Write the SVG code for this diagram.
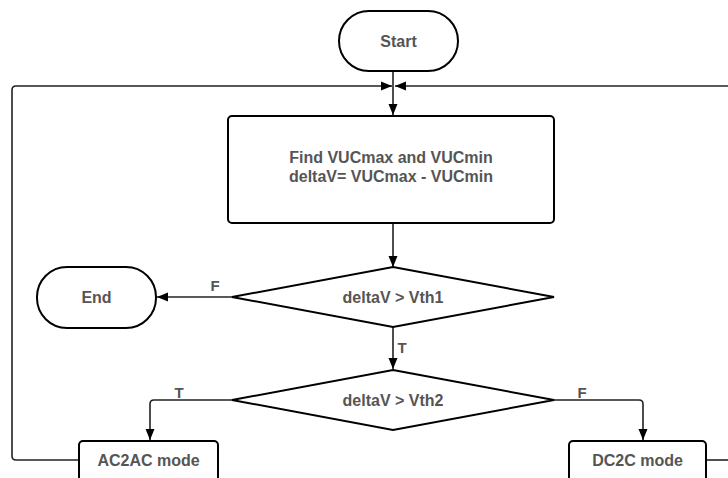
<svg xmlns="http://www.w3.org/2000/svg" width="728" height="478" viewBox="0 0 728 478">
<defs>
<style>
.shape{fill:#fff;stroke:#000;stroke-width:2}
.line{fill:none;stroke:#222;stroke-width:1.6}
.t{font-family:"Liberation Sans",Arial,sans-serif;font-weight:bold;font-size:16px;fill:#555;text-anchor:middle;dominant-baseline:central}
.lbl{font-family:"Liberation Sans",Arial,sans-serif;font-weight:bold;font-size:15px;fill:#555;text-anchor:middle;dominant-baseline:central}
</style>
<marker id="arr" markerUnits="userSpaceOnUse" markerWidth="12" markerHeight="10" refX="11" refY="5" orient="auto">
<path d="M0,0.5 L11,5 L0,9.5 z" fill="#000"/>
</marker>
</defs>
<rect width="728" height="478" fill="#fff"/>
<g id="connectors">
<path class="line" d="M393,71 V115" marker-end="url(#arr)"/>
<path class="line" d="M79,460 H16 Q12,460 12,456 V90 Q12,86 16,86 H392" marker-end="url(#arr)"/>
<path class="line" d="M706,460 H728"/>
<path class="line" d="M728,86 H395" marker-end="url(#arr)"/>
<path class="line" d="M393,223 V267" marker-end="url(#arr)"/>
<path class="line" d="M232,297 H157" marker-end="url(#arr)"/>
<path class="line" d="M393,327 V369" marker-end="url(#arr)"/>
<path class="line" d="M232,400 H154 Q150,400 150,404 V440" marker-end="url(#arr)"/>
<path class="line" d="M554,400 H639 Q643,400 643,404 V440" marker-end="url(#arr)"/>
<text class="lbl" x="215" y="285">F</text>
<text class="lbl" x="402" y="347">T</text>
<text class="lbl" x="179" y="392">T</text>
<text class="lbl" x="582" y="392">F</text>
</g>
<g id="start">
<rect class="shape" x="339" y="11" width="119" height="60" rx="30" ry="30"/>
<text class="t" x="398.5" y="41">Start</text>
</g>
<g id="process">
<rect class="shape" x="228" y="116" width="326" height="107" rx="4" ry="4"/>
<text class="t" x="391" y="157">Find VUCmax and VUCmin</text>
<text class="t" x="391" y="176">deltaV= VUCmax - VUCmin</text>
</g>
<g id="decision1">
<polygon class="shape" points="393,267 554,297 393,327 232,297"/>
<text class="t" x="393" y="297">deltaV &gt; Vth1</text>
</g>
<g id="end">
<rect class="shape" x="37" y="267" width="119" height="61" rx="30" ry="30"/>
<text class="t" x="96.5" y="297.5">End</text>
</g>
<g id="decision2">
<polygon class="shape" points="393,370 554,400 393,430 232,400"/>
<text class="t" x="393" y="400">deltaV &gt; Vth2</text>
</g>
<g id="ac2ac">
<rect class="shape" x="79" y="441" width="139" height="50" rx="4" ry="4"/>
<text class="t" x="148.5" y="460">AC2AC mode</text>
</g>
<g id="dc2c">
<rect class="shape" x="569" y="441" width="137" height="50" rx="4" ry="4"/>
<text class="t" x="637.5" y="460">DC2C mode</text>
</g>
</svg>
